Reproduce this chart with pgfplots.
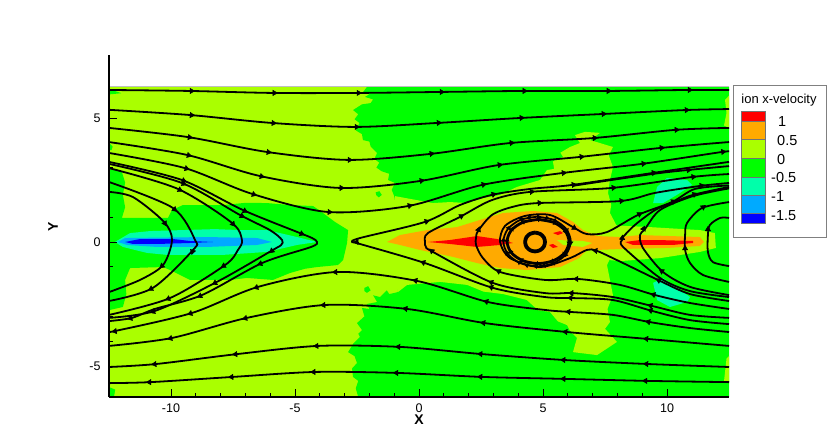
\documentclass[border=0pt]{standalone}
\usepackage{pgfplots}
\pgfplotsset{compat=1.18}
\usepackage{fontspec}
\setmainfont{Liberation Sans}
\usetikzlibrary{arrows.meta}

\definecolor{lvred}{RGB}{255,0,0}
\definecolor{lvorange}{RGB}{255,170,0}
\definecolor{lvlime}{RGB}{170,255,0}
\definecolor{lvgreen}{RGB}{0,255,0}
\definecolor{lvspring}{RGB}{0,255,170}
\definecolor{lvazure}{RGB}{0,170,255}
\definecolor{lvblue}{RGB}{0,0,255}

\tikzset{
  stream/.style={smooth, black, line width=1.8pt},
  level/.style={fill=#1, draw=none}
}

\begin{document}
\begin{tikzpicture}[font=\fontsize{12.5}{14}\selectfont]
\useasboundingbox (-109pt,-50pt) rectangle (721pt,397pt);
\begin{axis}[
    scale only axis,
    width=620pt, height=342pt,
    xmin=-12.5, xmax=12.5,
    ymin=-6.25, ymax=7.54,
    axis lines=left,
    axis line style={-, line width=1.6pt},
    axis on top,
    xtick={-10,-5,0,5,10},
    ytick={-5,0,5},
    minor x tick num=4,
    minor y tick num=4,
    tick align=inside,
    major tick length=8pt,
    minor tick length=4pt,
    tick style={black, line width=0.7pt},
    xticklabel style={yshift=-3pt},
    yticklabel style={xshift=-5pt},
    /pgf/number format/assume math mode=true,
    xlabel={\fontsize{14}{16}\selectfont\bfseries X},
    ylabel={\fontsize{14}{16}\selectfont\bfseries Y},
    every axis x label/.style={at={(axis description cs:0.5,0)}, anchor=center, yshift=-23pt},
    every axis y label/.style={at={(axis description cs:-0.0903,0.497)}, anchor=center, rotate=90},
]
% --- flooded contour levels ---
\addplot[level=lvlime] coordinates {(-12.5,-6.25)(12.5,-6.25)(12.5,6.25)(-12.5,6.25)};
% green, right half
\addplot[level=lvgreen] coordinates {
  (-2.1,6.25)(-2.25,6.05)(-2.0,5.95)(-2.18,5.85)(-1.85,5.75)(-1.95,5.6)(-2.3,5.55)(-2.66,5.32)(-2.45,5.15)(-2.6,4.95)
  (-2.4,4.8)(-2.55,4.5)(-2.3,4.35)(-2.26,4.11)(-2.0,4.05)(-1.95,3.85)(-1.69,3.59)(-1.8,3.35)(-1.6,3.2)(-1.72,3.0)
  (-1.5,2.85)(-1.2,2.75)(-1.25,2.5)(-0.97,2.38)(-1.1,2.1)(-1,1.85)
  (-0.85,-2.02)(-1.2,-2.1)(-1.3,-1.95)(-1.57,-2.22)(-1.85,-2.15)(-1.69,-2.42)(-2.1,-2.5)(-2.0,-2.7)(-2.3,-2.66)(-2.2,-3.0)
  (-2.5,-3.27)(-2.3,-3.55)(-2.45,-3.7)(-2.38,-3.83)(-2.65,-4.1)(-2.86,-4.44)(-2.6,-4.6)(-2.5,-4.88)(-2.7,-5.1)(-2.66,-5.44)
  (-2.45,-5.6)(-2.55,-5.9)(-2.45,-6.25)
  (12.5,-6.25)(12.5,6.25)};
% green, round the left stagnation region
\addplot[level=lvgreen] coordinates {
  (-12.5,2.98)(-11.98,2.82)(-11.85,2.4)(-11.94,1.9)(-11.85,1.4)(-11.98,0.97)(-10.12,0.97)(-9.96,1.29)(-9.52,1.49)(-7.9,1.49)
  (-7,1.58)(-6.13,1.57)(-5.2,1.49)(-4.27,1.45)(-3.87,1.17)(-3.39,0.81)(-2.86,0.48)(-2.9,-0.04)(-3.06,-0.73)
  (-3.27,-0.93)(-4.11,-1.01)(-4.6,-1.08)(-5.2,-1.25)(-5.89,-1.53)(-6.94,-1.45)(-7.62,-1.53)(-9.23,-1.53)
  (-10.04,-1.13)(-10.32,-1.01)(-11.65,-1.05)(-11.85,-1.53)(-11.8,-2.1)(-11.94,-2.62)(-12.46,-2.74)(-12.5,-2.74)};
% small green bits on the lime
\addplot[level=lvgreen] coordinates {(-12.5,6.15)(-12.3,6.1)(-12.0,6.0)(-12.5,5.95)};
\addplot[level=lvgreen] coordinates {(-12.5,4.0)(-12.35,3.85)(-12.4,3.7)(-12.5,3.7)};
\addplot[level=lvgreen] coordinates {(-12.5,-5.85)(-12.25,-5.95)(-12.3,-6.25)(-12.5,-6.25)};
\addplot[level=lvgreen] coordinates {(-2.2,-1.85)(-2.05,-1.78)(-1.95,-1.95)(-2.1,-2.05)(-2.2,-1.98)};
\addplot[level=lvgreen] coordinates {(-1.75,2.0)(-1.6,2.05)(-1.5,1.9)(-1.62,1.8)(-1.72,1.88)};
% lime over the green, middle
\addplot[level=lvlime] coordinates {
  (-0.97,1.85)(0.56,1.57)(1.25,1.61)(1.94,1.57)(2.58,1.77)(3.27,1.9)(3.95,2.22)(4.88,2.5)(5.16,2.9)(5.45,2.95)(5.4,3.25)
  (5.81,3.43)(5.7,3.6)(6.09,3.83)(6.49,3.99)(6.29,4.31)(6.69,4.44)(7.3,4.4)(6.9,4.11)(7.82,3.83)(7.65,3.5)(7.82,3.02)
  (7.7,2.5)(7.62,1.98)(7.75,1.5)(7.7,1.17)(8.02,0.56)(7.78,-0.52)(7.58,-0.93)(7.82,-2.14)(7.6,-2.7)(7.7,-3.23)(7.5,-3.5)(7.98,-4.03)
  (7.18,-4.56)(6.21,-4.44)(6.37,-3.87)(6.1,-3.6)(5.97,-3.35)(5.6,-3.2)(5.28,-2.82)(4.8,-2.75)(4.35,-2.34)(3.4,-2.1)(2.6,-2.0)
  (1.94,-1.73)(0.85,-1.61)(-0.48,-1.73)(-0.85,-2.02)(-1.3,0)};
% lime round the right orange strip, and at the right edge
\addplot[level=lvlime] coordinates {(7.7,0.68)(9.31,0.6)(11.33,0.48)(11.93,0.36)(11.97,-0.24)(11.33,-0.4)(9.72,-0.65)(8.1,-0.77)(7.7,-0.73)};
\addplot[level=lvlime] coordinates {(12.34,5.73)(12.5,5.9)(12.5,4.6)(12.3,4.7)(12.4,5.2)};
\addplot[level=lvlime] coordinates {(12.4,-4.7)(12.5,-4.6)(12.5,-5.65)(12.3,-5.6)};
% orange
\addplot[level=lvorange] coordinates {
  (-1.29,0)(-0.77,0.28)(0.32,0.48)(1.53,0.6)(2.46,0.89)(3.39,1.17)(4.6,1.25)(5.56,1.17)(6.21,0.81)(6.61,0.48)
  (7.18,0.24)(8.1,0.2)(8.91,0.28)(11.33,0.2)(11.49,0)(11.33,-0.16)(10,-0.24)(8.23,-0.28)(7.18,-0.32)(6.77,-0.32)
  (6.45,-0.65)(5.69,-1.01)(4.35,-1.13)(3.27,-1.05)(2.34,-0.85)(1.37,-0.6)(0.04,-0.32)(-0.77,-0.12)};
\addplot[level=lvlime] coordinates {(5.56,0.08)(6.61,0.04)(6.98,-0.04)(6.61,-0.2)(5.81,-0.12)};
% red
\addplot[level=lvred] coordinates {(0.36,0)(1.25,0.08)(2.34,0.24)(3.15,0.12)(3.79,-0.04)(3.27,-0.12)(2.34,-0.2)(1.25,-0.08)};
\addplot[level=lvred] coordinates {(5.4,0.36)(5.69,0.44)(5.81,0.36)(5.6,0.28)};
\addplot[level=lvred] coordinates {(5.24,-0.12)(5.4,-0.08)(5.6,-0.2)(5.4,-0.24)};
\addplot[level=lvred] coordinates {(8.31,0)(8.91,0.08)(9.6,0.08)(11.05,0.04)(11.05,-0.04)(10.24,-0.12)(8.63,-0.12)};
% negative levels, left
\addplot[level=lvspring] coordinates {(-12.26,0)(-11.65,0.36)(-10.85,0.44)(-8.23,0.52)(-7.22,0.48)(-6.13,0.48)(-4.92,0.2)(-4.11,0)(-4.92,-0.12)(-6.13,-0.4)(-7.9,-0.52)(-10.16,-0.52)(-10.97,-0.44)(-11.94,-0.2)};
\addplot[level=lvazure] coordinates {(-12.14,0)(-11.85,0.16)(-8.55,0.2)(-6.53,0.16)(-5.93,0)(-6.53,-0.12)(-8.55,-0.2)(-10.56,-0.2)(-11.77,-0.12)};
\addplot[level=lvblue] coordinates {(-11.85,0)(-11.25,0.12)(-9.92,0.12)(-9.23,0.04)(-8.31,0)(-9.23,-0.04)(-10.56,-0.08)(-11.53,-0.08)};
% negative levels, right
\addplot[level=lvspring] coordinates {(9.44,1.57)(9.6,2.22)(10,2.58)(10.81,2.5)(11.01,2.3)(10.4,1.9)(9.84,1.57)};
\addplot[level=lvspring] coordinates {(9.44,-1.65)(9.6,-2.34)(10.12,-2.62)(10.81,-2.42)(10.93,-2.22)(10.24,-1.73)(9.84,-1.45)};
% top edge of the field
\addplot[black!25, line width=1pt] coordinates {(-12.5,6.25)(12.5,6.25)};

% --- streamlines, upper half, left to right ---
\addplot[stream] coordinates {(-12.5,6.13)(-9.23,6.09)(-5.89,6.01)(-2.5,6.01)(0.85,6.05)(4.19,6.09)(7.58,6.09)(10.85,6.13)(12.5,6.13)};
\addplot[stream] coordinates {(-12.5,5.33)(-9.23,5.12)(-5.93,4.8)(-2.58,4.64)(0.73,4.8)(4.07,5.0)(7.38,5.16)(10.73,5.32)(12.5,5.36)};
\addplot[stream] coordinates {(-12.5,4.6)(-9.31,4.23)(-6.13,3.63)(-2.86,3.31)(0.44,3.55)(3.67,3.99)(7.02,4.19)(10.32,4.52)(12.5,4.6)};
\addplot[stream] coordinates {(-12.5,4.03)(-9.35,3.51)(-6.41,2.66)(-3.19,2.18)(0.04,2.46)(3.19,3.1)(6.49,3.43)(9.72,3.79)(12.5,4.03)};
\addplot[stream] coordinates {(-12.5,3.59)(-9.44,2.98)(-6.73,1.94)(-3.67,1.21)(-0.44,1.45)(2.54,2.3)(5.77,2.78)(8.99,3.15)(12.22,3.63)(12.5,3.63)};
% left loops, downward
\addplot[stream] coordinates {(-12.5,3.23)(-9.56,2.5)(-7.1,1.29)(-4.8,0.36)(-4.31,0.16)(-4.11,0)(-4.35,-0.2)(-6.33,-0.85)(-8.75,-2.14)(-10.65,-2.7)(-11.57,-3.06)(-12.5,-3.19)};
\addplot[stream] coordinates {(-12.5,3.15)(-9.56,2.38)(-7.22,1.09)(-6.01,0.48)(-5.52,0.08)(-5.56,-0.12)(-5.89,-0.32)(-8.15,-1.61)(-10.65,-2.78)(-12.5,-3.06)};
\addplot[stream] coordinates {(-12.5,2.98)(-9.72,2.14)(-7.54,0.77)(-7.14,0.08)(-7.3,-0.32)(-7.82,-0.93)(-10.04,-2.26)(-12.5,-2.94)};
\addplot[stream] coordinates {(-12.5,2.42)(-9.92,1.37)(-9.03,0.08)(-9.11,-0.32)(-10.73,-1.85)(-12.5,-2.38)};
\addplot[stream] coordinates {(-12.5,2.02)(-11.53,1.81)(-10.28,0.81)(-9.96,0.08)(-10.32,-0.93)(-11.25,-1.53)(-12.5,-2.02)};
% from lower right, through the middle, to upper right
\addplot[stream] coordinates {(12.5,-3.31)(10.93,-3.15)(9.4,-2.78)(7.82,-2.34)(6.17,-2.26)(5.08,-2.22)(2.98,-1.85)(0.24,-0.85)(-2.38,-0.08)(-2.7,0)(-2.38,0.16)(0.24,0.81)(1.65,1.49)(2.94,1.9)(4.48,2.14)(6.17,2.3)(9.4,2.78)(12.5,3.23)};
\addplot[stream] coordinates {(6.17,2.26)(9.4,2.74)(10.81,2.9)(12.5,3.06)};
\addplot[stream] coordinates {(12.5,-3.06)(10.93,-2.94)(9.4,-2.58)(7.82,-2.22)(6.21,-2.06)(5.08,-2.06)(2.98,-1.65)(0.56,-0.4)(0.28,-0.2)(0.24,0)(0.36,0.36)(1.65,1.01)(2.94,1.69)(4.48,2.02)(7.78,2.18)(11.0,2.62)(12.5,2.74)};
\addplot[stream] coordinates {(12.5,-2.7)(10.93,-2.46)(9.52,-2.14)(8.1,-1.73)(6.41,-1.49)(5.08,-1.53)(3.27,-1.21)(2.58,-0.65)(2.3,-0.12)(2.3,0.16)(2.38,0.44)(2.94,1.09)(3.75,1.41)(4.8,1.57)(8.1,1.65)(9.52,1.98)(11.33,2.26)(12.5,2.38)};
% separatrix wrapping the vortex
\addplot[stream] coordinates {(12.5,-2.38)(10.93,-2.1)(9.72,-1.57)(8.23,-0.85)(7.18,-0.36)(6.77,-0.32)(6.09,-0.65)(4.88,-1.01)(3.67,-0.65)(3.27,0)(3.47,0.65)(4.27,1.05)(5.28,1.09)(6.21,0.6)(6.77,0.32)(7.58,0.4)(8.83,1.09)(10.2,1.61)(11.13,2.14)(12.5,2.28)};
\addplot[stream] coordinates {(12.5,-2.22)(10.93,-1.98)(9.72,-1.45)(8.23,-0.2)(8.19,0.08)(8.19,0.16)(8.71,0.69)(9.52,1.29)(10.2,1.57)(11.05,1.9)(12.5,2.22)};
\addplot[stream] coordinates {(12.5,-2.14)(10.93,-1.81)(9.84,-1.21)(9.03,-0.24)(8.91,0.28)(9.11,0.52)(9.72,1.29)(11.05,1.85)(12.5,2.16)};
% right loops, upward
\addplot[stream] coordinates {(12.5,-1.61)(11.45,-1.33)(10.93,-0.85)(10.73,-0.32)(10.73,0.28)(10.81,0.77)(11.41,1.37)(12.5,1.61)};
\addplot[stream] coordinates {(12.5,-0.97)(11.85,-0.81)(11.65,-0.4)(11.65,0.28)(11.73,0.69)(12.14,0.97)(12.5,0.97)};
% lower half, right to left
\addplot[stream] coordinates {(12.5,-3.63)(10.93,-3.47)(9.31,-3.23)(7.82,-2.94)(6.09,-2.82)(5.08,-2.74)(2.78,-2.42)(-0.08,-1.57)(-3.31,-1.21)(-6.49,-1.81)(-9.15,-2.86)(-12.26,-3.59)(-12.5,-3.59)};
\addplot[stream] coordinates {(12.5,-4.19)(9.23,-3.91)(5.97,-3.63)(2.66,-3.27)(-0.48,-2.7)(-3.79,-2.54)(-6.94,-3.06)(-9.96,-3.87)(-12.5,-4.19)};
\addplot[stream] coordinates {(12.5,-5.04)(9.23,-4.92)(5.89,-4.76)(2.54,-4.52)(-0.77,-4.23)(-4.07,-4.19)(-7.34,-4.52)(-10.6,-4.92)(-12.5,-5.04)};
\addplot[stream] coordinates {(12.5,-5.65)(9.19,-5.6)(5.89,-5.52)(2.54,-5.44)(-0.85,-5.28)(-4.19,-5.24)(-7.5,-5.44)(-10.81,-5.65)(-12.5,-5.69)};
% vortex rings, clockwise
\addplot[stream, line width=3.8pt] coordinates {(4.68,0.38)(4.88,0.33)(5.03,0.19)(5.08,0)(5.03,-0.19)(4.88,-0.33)(4.68,-0.38)(4.48,-0.33)(4.33,-0.19)(4.28,0)(4.33,0.19)(4.48,0.33)(4.68,0.38)};
\addplot[stream, line width=2.8pt] coordinates {(4.8,0.91)(5.43,0.79)(5.88,0.47)(6.05,0.02)(5.88,-0.43)(5.43,-0.75)(4.8,-0.87)(4.18,-0.75)(3.72,-0.43)(3.55,0.02)(3.72,0.47)(4.18,0.79)(4.8,0.91)};
\addplot[stream] coordinates {(4.76,1.02)(5.44,0.89)(5.94,0.52)(6.12,0.02)(5.94,-0.48)(5.44,-0.85)(4.76,-0.98)(4.08,-0.85)(3.58,-0.48)(3.4,0.02)(3.58,0.52)(4.08,0.89)(4.76,1.02)};

% --- flow arrows on the streamlines ---
\addplot[quiver={u=\thisrow{u},v=\thisrow{v}}, black, line width=0.6pt, -{Triangle[length=5.2pt,width=6pt]}] table {
x y u v
-9.23 6.09 .2 0
-5.89 6.01 .2 0
-2.5 6.01 .2 0
0.85 6.05 .2 0
4.19 6.09 .2 0
7.58 6.09 .2 0
10.85 6.13 .2 0
-9.23 5.12 .2 -.015
-5.93 4.8 .2 -.015
-2.58 4.64 .2 0
0.73 4.8 .2 .012
4.07 5.0 .2 .012
7.38 5.16 .2 .01
10.73 5.32 .2 .01
-9.31 4.23 .2 -.03
-6.13 3.63 .2 -.03
-2.86 3.31 .2 0
0.44 3.55 .2 .03
3.67 3.99 .2 .02
7.02 4.19 .2 .01
10.32 4.52 .2 .01
-9.35 3.51 .2 -.05
-6.41 2.66 .2 -.05
-3.19 2.18 .2 0
0.04 2.46 .2 .04
3.19 3.1 .2 .03
6.49 3.43 .2 .02
9.72 3.79 .2 .02
-9.44 2.98 .2 -.06
-6.73 1.94 .2 -.07
-3.67 1.21 .2 -.01
-0.44 1.45 .2 .05
2.54 2.3 .2 .05
5.77 2.78 .2 .02
8.99 3.15 .2 .02
12.2 3.63 .2 .02
-9.56 2.5 .2 -.08
-7.1 1.29 .2 -.1
-4.8 0.36 .2 -.08
-6.33 -0.85 -.2 -.07
-8.75 -2.14 -.2 -.1
-11.57 -3.06 -.2 -.05
-9.56 2.38 .2 -.09
-7.22 1.09 .2 -.11
-5.89 -0.32 -.15 -.13
-8.15 -1.61 -.2 -.11
-10.65 -2.78 -.2 -.08
-9.72 2.14 .2 -.1
-7.54 0.77 .13 -.15
-7.82 -0.93 -.18 -.1
-10.04 -2.26 -.2 -.08
-9.92 1.37 .17 -.15
-9.11 -0.32 -.06 -.2
-10.73 -1.85 -.2 -.1
-10.28 0.81 .1 -.18
-10.32 -0.93 -.15 -.13
9.4 -2.78 -.2 .06
6.17 -2.26 -.2 .01
2.98 -1.85 -.2 .07
0.24 -0.85 -.2 .07
-2.45 0 -.2 0
0.24 0.81 .2 .06
2.94 1.9 .2 .06
6.17 2.3 .2 .03
9.4 2.78 .2 .03
10.81 2.9 .2 .02
9.4 -2.58 -.2 .05
6.21 -2.06 -.2 0
2.98 -1.65 -.2 .07
0.56 -0.4 -.15 .13
1.65 1.01 .18 .1
4.48 2.02 .2 .02
7.78 2.18 .2 .02
11.0 2.62 .2 .02
9.52 -2.14 -.2 .06
6.41 -1.49 -.2 0
3.27 -1.21 -.18 .1
2.38 0.44 .07 .19
4.8 1.57 .2 .01
8.1 1.65 .2 .02
11.33 2.26 .2 .04
9.72 -1.57 -.18 .09
7.18 -0.36 -.2 .03
6.21 0.6 .17 -.1
8.83 1.09 .18 .1
10.2 1.61 .18 .08
8.19 0.1 .02 .2
11.05 1.9 .19 .07
9.84 -1.21 -.17 .11
9.03 0.48 .08 .18
10.73 -0.32 0 .2
11.41 1.37 .16 .12
11.65 0.45 0 .2
9.31 -3.23 -.2 .04
6.09 -2.82 -.2 .02
2.78 -2.42 -.2 .06
-0.08 -1.57 -.2 .05
-3.31 -1.21 -.2 -.01
-6.49 -1.81 -.2 -.07
-9.15 -2.86 -.2 -.07
-12.2 -3.59 -.2 -.03
9.23 -3.91 -.2 .02
5.97 -3.63 -.2 .02
2.66 -3.27 -.2 .03
-0.48 -2.7 -.2 .03
-3.79 -2.54 -.2 -.01
-6.94 -3.06 -.2 -.05
-9.96 -3.87 -.2 -.05
9.23 -4.92 -.2 .01
5.89 -4.76 -.2 .01
2.54 -4.52 -.2 .015
-0.77 -4.23 -.2 .01
-4.07 -4.19 -.2 -.01
-7.34 -4.52 -.2 -.02
-10.6 -4.92 -.2 -.02
9.19 -5.6 -.2 .005
5.89 -5.52 -.2 .005
2.54 -5.44 -.2 .01
-0.85 -5.28 -.2 .005
-4.19 -5.24 -.2 -.005
-7.5 -5.44 -.2 -.01
-10.81 -5.65 -.2 -.005
};
% arrows crowding on the vortex rings
\addplot[quiver={u=\thisrow{u},v=\thisrow{v}}, black, line width=0.6pt, -{Triangle[length=3.6pt,width=5pt]}] table {
x y u v
4.8 0.91 .15 0
5.43 0.79 .13 -.07
5.88 0.47 .07 -.13
6.05 0.02 0 -.15
5.88 -0.43 -.07 -.13
5.43 -0.75 -.13 -.07
4.8 -0.87 -.15 0
4.18 -0.75 -.13 .07
3.72 -0.43 -.07 .13
3.55 0.02 0 .15
3.72 0.47 .07 .13
4.18 0.79 .13 .07
4.76 1.02 .15 0
5.1 0.98 .15 -.03
5.44 0.89 .13 -.07
5.94 0.52 .07 -.13
6.12 0.02 0 -.15
5.94 -0.48 -.07 -.13
5.44 -0.85 -.13 -.07
5.1 -0.94 -.15 -.03
4.76 -0.98 -.15 0
4.4 -0.95 -.15 .03
4.08 -0.85 -.13 .07
3.58 -0.48 -.07 .13
3.4 0.02 0 .15
3.58 0.52 .07 .13
4.08 0.89 .13 .07
4.4 0.98 .15 .03
};
\end{axis}

% --- contour legend ---
\draw[black!50, line width=1pt, fill=white] (624pt,159pt) rectangle (717pt,311pt);
\node[font=\fontsize{13}{15}\selectfont] at (670pt,297pt) {ion x-velocity};
\begin{scope}[draw=black!55, line width=0.25pt]
\filldraw[fill=lvred]    (632pt,276pt) rectangle (656pt,286pt);
\filldraw[fill=lvorange] (632pt,258pt) rectangle (656pt,276pt);
\filldraw[fill=lvlime]   (632pt,239pt) rectangle (656pt,258pt);
\filldraw[fill=lvgreen]  (632pt,220pt) rectangle (656pt,239pt);
\filldraw[fill=lvspring] (632pt,202pt) rectangle (656pt,220pt);
\filldraw[fill=lvazure]  (632pt,184pt) rectangle (656pt,202pt);
\filldraw[fill=lvblue]   (632pt,174pt) rectangle (656pt,184pt);
\end{scope}
\begin{scope}[every node/.style={anchor=west, inner sep=0pt, font=\fontsize{14.5}{16}\selectfont}]
\node at (669pt,275pt) {1};
\node at (668pt,256pt) {0.5};
\node at (668pt,237pt) {0};
\node at (662pt,219pt) {-0.5};
\node at (662pt,200pt) {-1};
\node at (662pt,181pt) {-1.5};
\end{scope}
\end{tikzpicture}
\end{document}
